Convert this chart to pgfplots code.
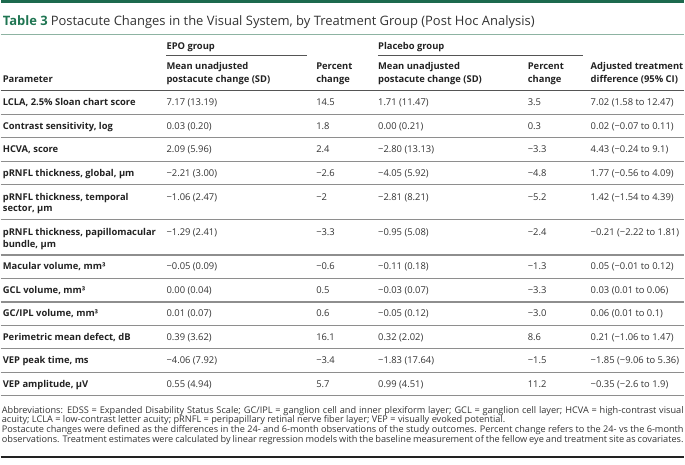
\documentclass[border=0pt]{standalone}
\usepackage{fontspec}
\setmainfont{Open Sans}
\usepackage{pgfplots}
\pgfplotsset{compat=1.18}
\definecolor{tgreen}{HTML}{1D6A4E}
\definecolor{tgreenT}{HTML}{1F7552}
\definecolor{trule}{HTML}{8DB3A2}
\definecolor{txt}{HTML}{333333}
\definecolor{hdr}{HTML}{222222}
\definecolor{rowrule}{HTML}{8E8E8E}
\definecolor{hrule}{HTML}{555555}
\newcommand{\bodyfont}{\fontsize{9.4}{11}\selectfont}
\newcommand{\trow}[7]{%
 \node[cellb] at (axis cs:2,#1) {#2};
 \node[cell] at (axis cs:166,#1) {#3};
 \node[cell] at (axis cs:316,#1) {#4};
 \node[cell] at (axis cs:378,#1) {#5};
 \node[cell] at (axis cs:528,#1) {#6};
 \node[cell] at (axis cs:591,#1) {#7};
}
\newcommand{\hl}[1]{\draw[rowrule, line width=1.2pt] (axis cs:0,#1) -- (axis cs:685,#1);}
\begin{document}
\begin{tikzpicture}[
 cell/.style={anchor=base west, inner sep=0pt, font=\bodyfont, text=txt},
 cellb/.style={anchor=base west, inner sep=0pt, font=\bodyfont\bfseries, text=hdr},
 foot/.style={anchor=base west, inner sep=0pt, font=\fontsize{9.2}{10}\selectfont, text=txt}]
\begin{axis}[hide axis, scale only axis, width=685pt, height=465pt,
 xmin=0, xmax=685, ymin=0, ymax=465, y dir=reverse, clip=false]
\addplot[draw=none] coordinates {(0,0) (685,465)};
% top bar and title
\fill[tgreen] (axis cs:0,0) rectangle (axis cs:685,3.5);
\node[anchor=base west, inner sep=0pt, font=\fontsize{13}{15}\selectfont, text=txt] at (axis cs:2,25.3)
 {\textcolor{tgreenT}{\bfseries Table 3}\hspace{3pt}Postacute Changes in the Visual System, by Treatment Group (Post Hoc Analysis)};
\draw[trule, line width=1.2pt] (axis cs:0,34.5) -- (axis cs:685,34.5);
% header
\node[cellb] at (axis cs:166,50) {EPO group};
\node[cellb] at (axis cs:378,50) {Placebo group};
\draw[hrule, line width=1pt] (axis cs:166,55.5) -- (axis cs:307,55.5);
\draw[hrule, line width=1pt] (axis cs:378,55.5) -- (axis cs:583,55.5);
\node[cellb] at (axis cs:166,70) {Mean unadjusted};
\node[cellb] at (axis cs:166,82.5) {postacute change (SD)};
\node[cellb] at (axis cs:316,70) {Percent};
\node[cellb] at (axis cs:316,82.5) {change};
\node[cellb] at (axis cs:378,70) {Mean unadjusted};
\node[cellb] at (axis cs:378,82.5) {postacute change (SD)};
\node[cellb] at (axis cs:528,70) {Percent};
\node[cellb] at (axis cs:528,82.5) {change};
\node[cellb] at (axis cs:591,70) {Adjusted treatment};
\node[cellb] at (axis cs:591,82.5) {difference (95\% CI)};
\node[cellb] at (axis cs:2,82.5) {Parameter};
\draw[hrule, line width=1.2pt] (axis cs:0,91) -- (axis cs:685,91);
% rows
\trow{106}{LCLA, 2.5\% Sloan chart score}{7.17 (13.19)}{14.5}{1.71 (11.47)}{3.5}{7.02 (1.58 to 12.47)}
\hl{114.5}
\trow{129.5}{Contrast sensitivity, log}{0.03 (0.20)}{1.8}{0.00 (0.21)}{0.3}{0.02 (−0.07 to 0.11)}
\hl{138}
\trow{153}{HCVA, score}{2.09 (5.96)}{2.4}{−2.80 (13.13)}{−3.3}{4.43 (−0.24 to 9.1)}
\hl{161.5}
\trow{176.5}{pRNFL thickness, global, µm}{−2.21 (3.00)}{−2.6}{−4.05 (5.92)}{−4.8}{1.77 (−0.56 to 4.09)}
\hl{185}
\trow{200.5}{pRNFL thickness, temporal}{−1.06 (2.47)}{−2}{−2.81 (8.21)}{−5.2}{1.42 (−1.54 to 4.39)}
\node[cellb] at (axis cs:2,212.3) {sector, µm};
\hl{220.25}
\trow{235.75}{pRNFL thickness, papillomacular}{−1.29 (2.41)}{−3.3}{−0.95 (5.08)}{−2.4}{−0.21 (−2.22 to 1.81)}
\node[cellb] at (axis cs:2,247.55) {bundle, µm};
\hl{255.5}
\trow{270.5}{Macular volume, mm³}{−0.05 (0.09)}{−0.6}{−0.11 (0.18)}{−1.3}{0.05 (−0.01 to 0.12)}
\hl{279}
\trow{294}{GCL volume, mm³}{0.00 (0.04)}{0.5}{−0.03 (0.07)}{−3.3}{0.03 (0.01 to 0.06)}
\hl{302.5}
\trow{317.5}{GC/IPL volume, mm³}{0.01 (0.07)}{0.6}{−0.05 (0.12)}{−3.0}{0.06 (0.01 to 0.1)}
\hl{326}
\trow{341}{Perimetric mean defect, dB}{0.39 (3.62)}{16.1}{0.32 (2.02)}{8.6}{0.21 (−1.06 to 1.47)}
\hl{349.5}
\trow{364.5}{VEP peak time, ms}{−4.06 (7.92)}{−3.4}{−1.83 (17.64)}{−1.5}{−1.85 (−9.06 to 5.36)}
\hl{373}
\trow{388}{VEP amplitude, µV}{0.55 (4.94)}{5.7}{0.99 (4.51)}{11.2}{−0.35 (−2.6 to 1.9)}
\hl{396.5}
% footnotes
\node[foot] at (axis cs:1,414) {\makebox[683pt][s]{Abbreviations: EDSS = Expanded Disability Status Scale; GC/IPL = ganglion cell and inner plexiform layer; GCL = ganglion cell layer; HCVA = high-contrast visual}};
\node[foot] at (axis cs:1,423.7) {acuity; LCLA = low-contrast letter acuity; pRNFL = peripapillary retinal nerve fiber layer; VEP = visually evoked potential.};
\node[foot] at (axis cs:1,433.4) {\makebox[683pt][s]{Postacute changes were defined as the differences in the 24- and 6-month observations of the study outcomes. Percent change refers to the 24- vs the 6-month}};
\node[foot] at (axis cs:1,443.1) {\makebox[683pt][s]{observations. Treatment estimates were calculated by linear regression models with the baseline measurement of the fellow eye and treatment site as covariates.}};
\draw[hdr, line width=1.3pt] (axis cs:0,458) -- (axis cs:685,458);
\end{axis}
\end{tikzpicture}
\end{document}
